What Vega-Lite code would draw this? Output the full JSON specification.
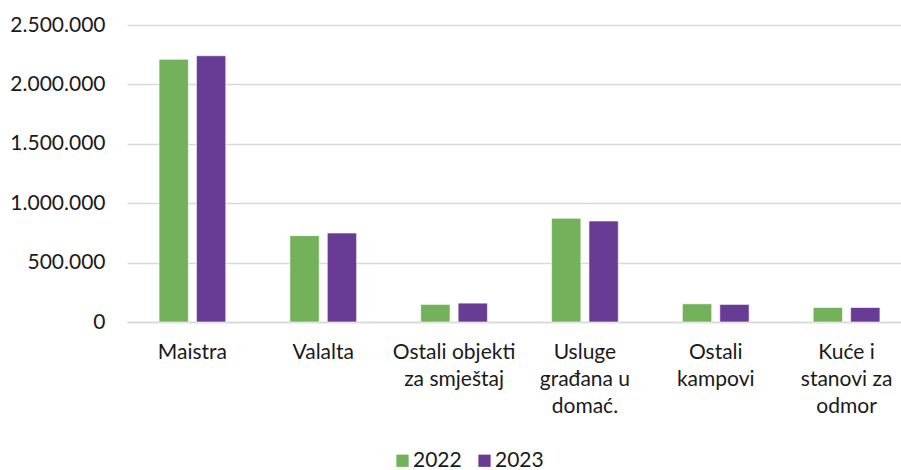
{
  "$schema": "https://vega.github.io/schema/vega-lite/v6.json",
  "autosize": {"type": "none"},
  "padding": {"left": 127, "top": 25, "right": 0, "bottom": 148},
  "width": 774,
  "height": 297,
  "config": {
    "locale": {"number": {"decimal": ",", "thousands": ".", "grouping": [3], "currency": ["", " €"]}},
    "view": {"stroke": null},
    "font": "Lato"
  },
  "data": {
    "values": [
      {"cat": "Maistra", "year": "2022", "value": 2211000},
      {"cat": "Maistra", "year": "2023", "value": 2241000},
      {"cat": "Valalta", "year": "2022", "value": 727000},
      {"cat": "Valalta", "year": "2023", "value": 749000},
      {"cat": "Ostali objekti|za smještaj", "year": "2022", "value": 148000},
      {"cat": "Ostali objekti|za smještaj", "year": "2023", "value": 159000},
      {"cat": "Usluge|građana u|domać.", "year": "2022", "value": 873000},
      {"cat": "Usluge|građana u|domać.", "year": "2023", "value": 850000},
      {"cat": "Ostali|kampovi", "year": "2022", "value": 153000},
      {"cat": "Ostali|kampovi", "year": "2023", "value": 148000},
      {"cat": "Kuće i|stanovi za|odmor", "year": "2022", "value": 122000},
      {"cat": "Kuće i|stanovi za|odmor", "year": "2023", "value": 122000}
    ]
  },
  "mark": {"type": "bar", "stroke": "#ffffff", "strokeWidth": 0.6},
  "encoding": {
    "x": {
      "field": "cat", "type": "nominal", "sort": null,
      "scale": {"range": [0, 785], "paddingInner": 0.49, "paddingOuter": 0.245},
      "axis": {
        "title": null, "labelAngle": 0, "labelExpr": "split(datum.label, '|')",
        "labelFontSize": 21, "labelColor": "#1a1a1a", "labelLineHeight": 27,
        "labelPadding": 19, "ticks": false, "domainColor": "#d9d9d9", "domainWidth": 1.5,
        "labelBaseline": "top"
      }
    },
    "xOffset": {"field": "year", "type": "nominal", "scale": {"paddingInner": 0.216}},
    "y": {
      "field": "value", "type": "quantitative",
      "scale": {"domain": [0, 2500000], "nice": false},
      "axis": {
        "title": null, "values": [0, 500000, 1000000, 1500000, 2000000, 2500000],
        "format": ",d", "labelFontSize": 21, "labelColor": "#1a1a1a",
        "ticks": false, "domain": false, "labelPadding": 22,
        "gridColor": "#d9d9d9", "gridWidth": 1.5
      }
    },
    "color": {
      "field": "year", "type": "nominal",
      "scale": {"domain": ["2022", "2023"], "range": ["#73B25B", "#683C94"]},
      "legend": {
        "title": null, "orient": "none", "direction": "horizontal",
        "legendX": 265, "legendY": 425,
        "symbolType": "square", "symbolSize": 150, "symbolStrokeWidth": 0,
        "labelFontSize": 21, "labelColor": "#1a1a1a", "labelOffset": 0,
        "columnPadding": 12
      }
    }
  }
}
